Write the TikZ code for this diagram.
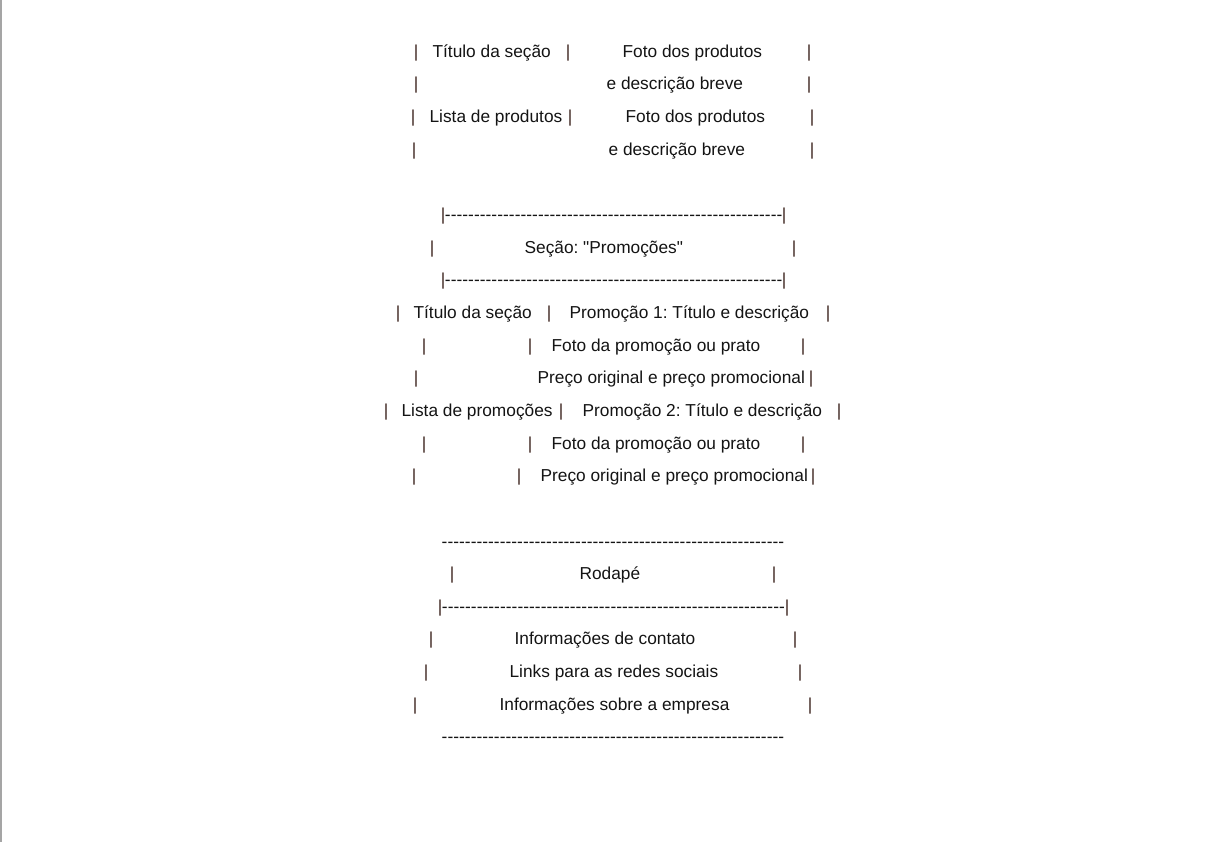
\documentclass[tikz,border=0pt]{standalone}
\usepackage{fontspec}
\setmainfont{Liberation Sans}[Ligatures={TeXOff,NoCommon}]
\frenchspacing
\definecolor{pipec}{RGB}{60,36,30}
\definecolor{txtc}{RGB}{20,20,20}
\definecolor{edgec}{RGB}{165,165,165}
\newcommand\pp[1]{\makebox[0pt][l]{\hspace*{\dimexpr#1pt-1.6pt\relax}\textcolor{pipec}{|}}}
\newcommand\tx[2]{\makebox[0pt][l]{\hspace*{\dimexpr#1pt-0.9pt\relax}#2}}
\newcommand\dsh[2]{\makebox[0pt][l]{\hspace*{#1pt}\hbox to #2pt{\xleaders\hbox{\char"2D}\hfill}}}
\newcommand\qt{\char"22}
\begin{document}
\begin{tikzpicture}[x=1pt,y=1pt,
  ln/.style={anchor=base west,inner sep=0pt,outer sep=0pt,text=txtc,
    font=\fontsize{17.3}{20}\selectfont}]
\useasboundingbox (0,0) rectangle (1218,842);
\fill[white] (0,0) rectangle (1218,842);
\fill[edgec] (0,0) rectangle (2,842);
% section 1
\node[ln] (l0) at (0,784.7) {\pp{415}\tx{433}{Título da seção}\pp{567}\tx{623}{Foto dos produtos}\pp{808}};
\node[ln] (l1) at (0,752.05) {\pp{415}\tx{607}{e descrição breve}\pp{808}};
\node[ln] (l2) at (0,719.4) {\pp{412}\tx{430}{Lista de produtos}\pp{569}\tx{626}{Foto dos produtos}\pp{811}};
\node[ln] (l3) at (0,686.75) {\pp{413}\tx{609}{e descrição breve}\pp{811}};
% section promocoes
\node[ln] (l5) at (0,621.45) {\pp{442}\dsh{444.4}{337.5}\pp{783}};
\node[ln] (l6) at (0,588.8) {\pp{431}\tx{525}{Seção: \qt Promoções\qt}\pp{793}};
\node[ln] (l7) at (0,556.15) {\pp{442}\dsh{444.4}{337.5}\pp{783}};
\node[ln] (l8) at (0,523.5) {\pp{397}\tx{414}{Título da seção}\pp{548}\tx{570}{Promoção 1: Título e descrição}\pp{827}};
\node[ln] (l9) at (0,490.85) {\pp{423}\pp{529}\tx{552}{Foto da promoção ou prato}\pp{802}};
\node[ln] (l10) at (0,458.2) {\pp{415}\tx{538}{Preço original e preço promocional}\pp{810}};
\node[ln] (l11) at (0,425.55) {\pp{385}\tx{402}{Lista de promoções}\pp{560}\tx{583}{Promoção 2: Título e descrição}\pp{838}};
\node[ln] (l12) at (0,392.9) {\pp{423}\pp{529}\tx{552}{Foto da promoção ou prato}\pp{802}};
\node[ln] (l13) at (0,360.25) {\pp{413}\pp{518}\tx{541}{Preço original e preço promocional}\pp{812}};
% rodape
\node[ln] (l15) at (0,294.95) {\dsh{441.2}{342.5}};
\node[ln] (l16) at (0,262.3) {\pp{451}\tx{580}{Rodapé}\pp{773}};
\node[ln] (l17) at (0,229.65) {\pp{439}\dsh{441.4}{343}\pp{786}};
\node[ln] (l18) at (0,197) {\pp{430}\tx{515}{Informações de contato}\pp{794}};
\node[ln] (l19) at (0,164.35) {\pp{425}\tx{510}{Links para as redes sociais}\pp{799}};
\node[ln] (l20) at (0,131.7) {\pp{414}\tx{500}{Informações sobre a empresa}\pp{809}};
\node[ln] (l21) at (0,99.05) {\dsh{441.2}{342.5}};
\end{tikzpicture}
\end{document}
